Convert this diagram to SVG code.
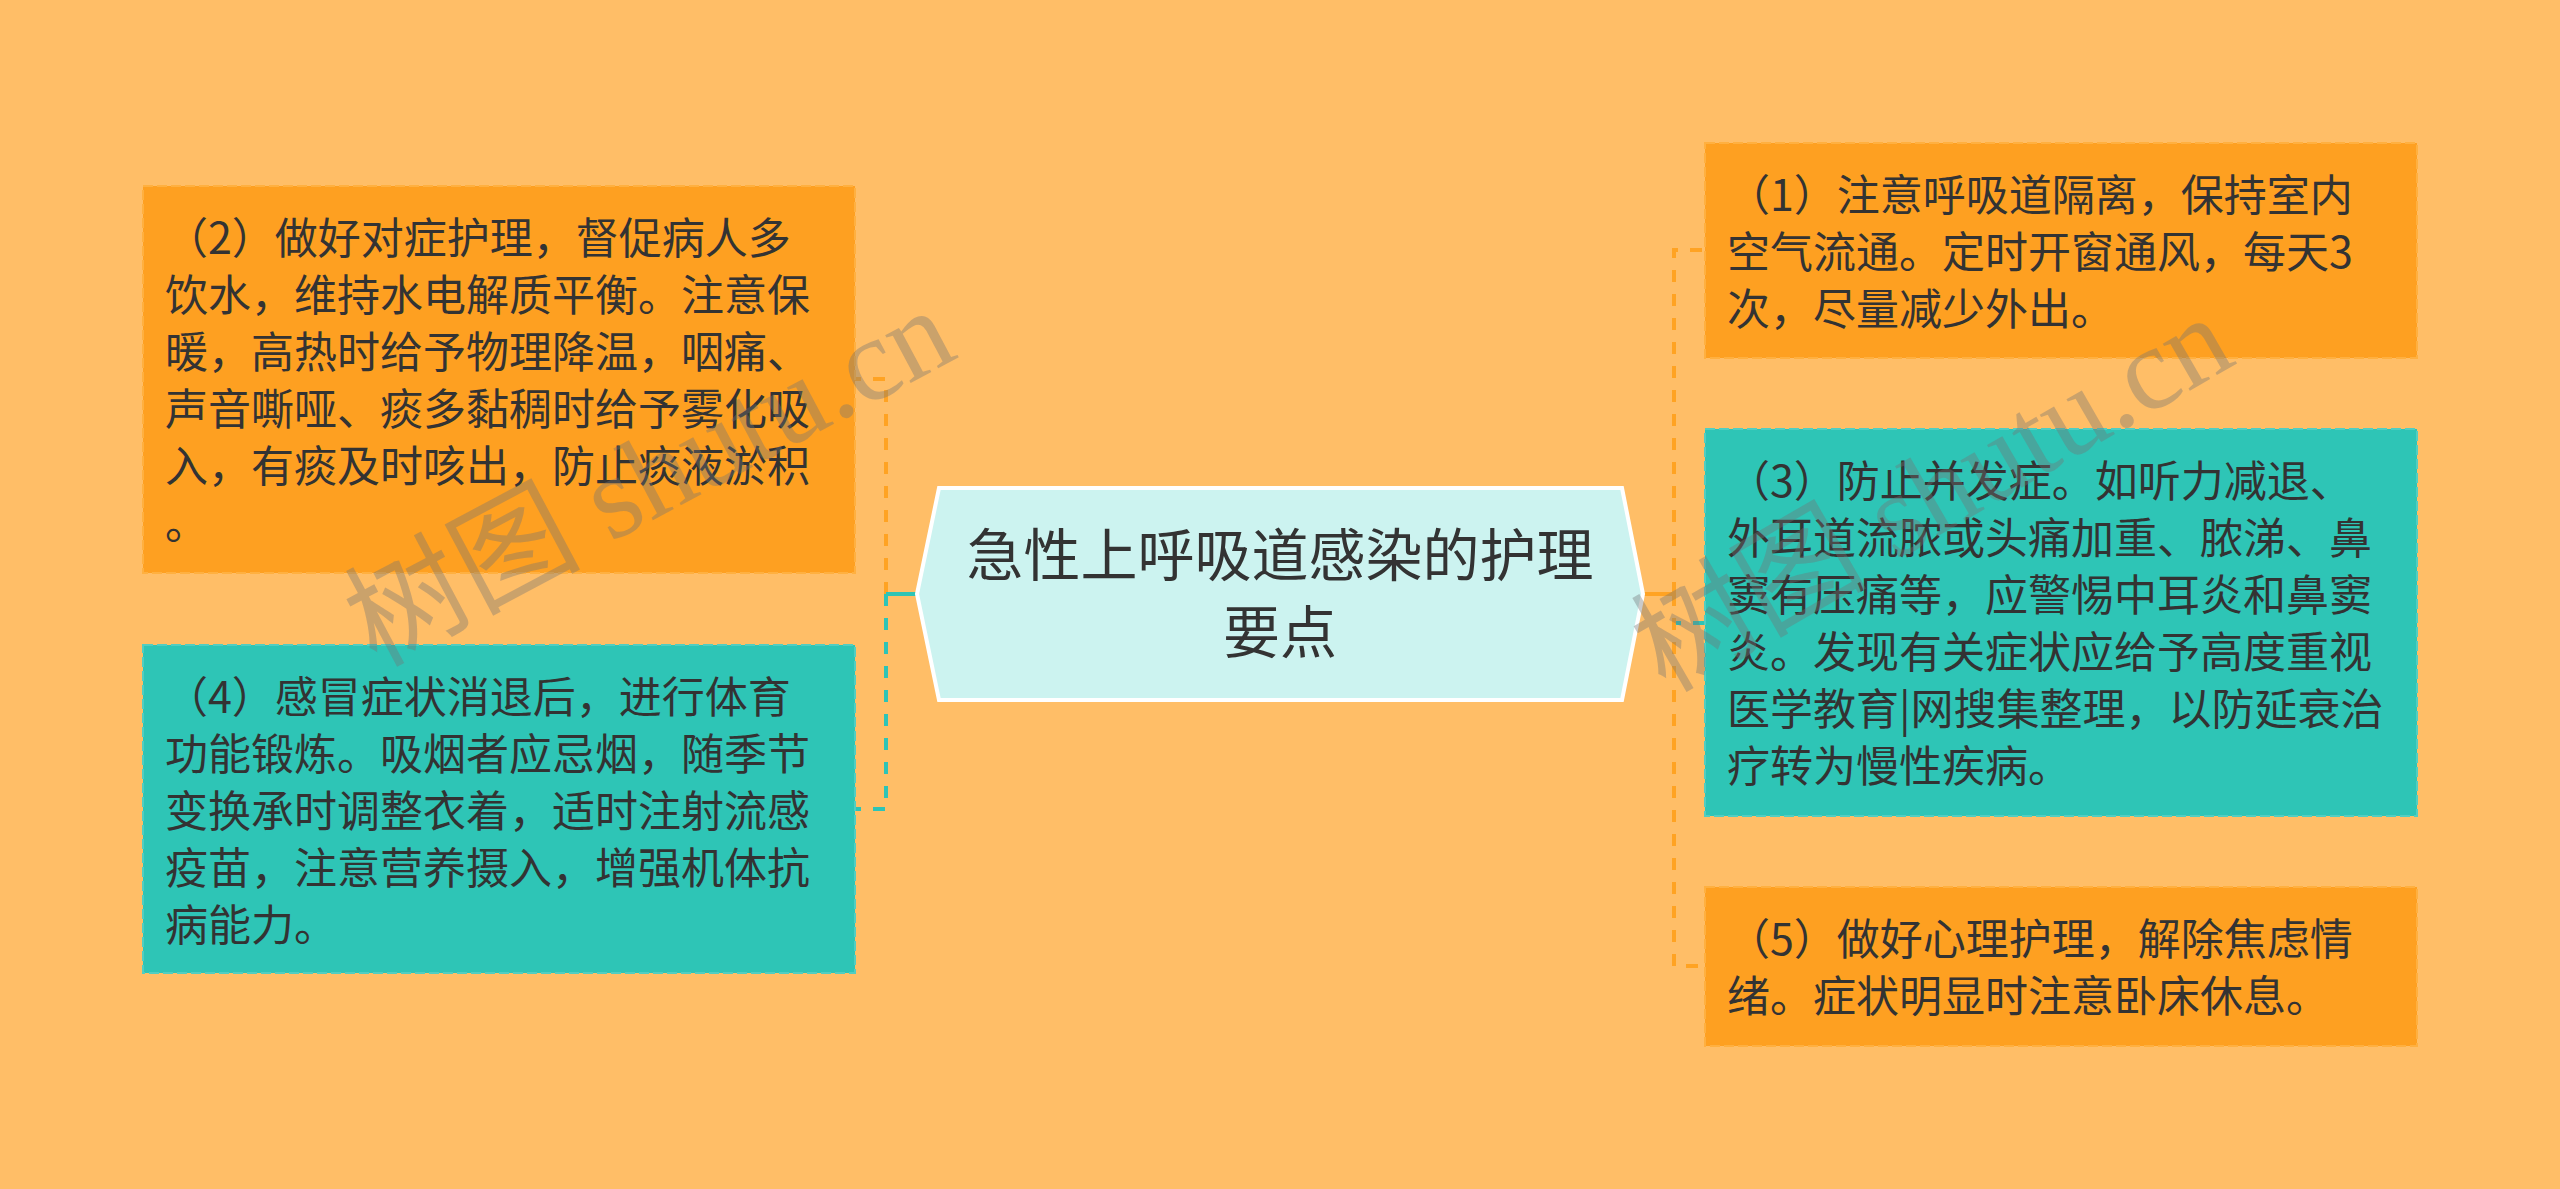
<svg xmlns="http://www.w3.org/2000/svg" width="2560" height="1189" viewBox="0 0 2560 1189">
<style>
.bg{fill:#FFBE67}
.box-o{fill:#FEA021;stroke:#FFB040;stroke-width:2;stroke-dasharray:10 4}
.box-t{fill:#2EC5B6;stroke:#52CEC1;stroke-width:2;stroke-dasharray:10 4}
.hex{fill:#CCF3F0;stroke:#FFFFFF;stroke-width:4}
.txt{font-family:"Noto Sans CJK SC","Noto Sans",sans-serif;font-size:43px;fill:#333333}
.title{font-family:"Noto Sans CJK SC","Noto Sans",sans-serif;font-size:57px;fill:#333333;text-anchor:middle}
.c-o{fill:none;stroke:#FFA323;stroke-width:4}
.c-t{fill:none;stroke:#2EC4B6;stroke-width:4}
.dash{stroke-dasharray:12 12}
.wm{font-family:"Liberation Serif","Noto Sans CJK SC",serif;font-size:118px;fill:#737373;fill-opacity:0.38;text-anchor:middle}
</style>
<rect class="bg" x="0" y="0" width="2560" height="1189"/>

<g id="connectors">
  <path class="c-o" d="M917,594 H886"/>
  <path class="c-o dash" d="M886,594 V379 H855"/>
  <path class="c-t" d="M917,594 H886"/>
  <path class="c-t dash" d="M886,594 V809 H855"/>
  <path class="c-t" d="M1643,594 H1674"/>
  <path class="c-t dash" d="M1674,594 V623 H1705"/>
  <path class="c-o" d="M1643,594 H1674"/>
  <path class="c-o dash" d="M1674,594 V250 H1705"/>
  <path class="c-o dash" d="M1674,594 V966 H1705"/>
</g>

<g id="center">
  <polygon class="hex" points="917,594 939,488 1622,488 1643,594 1622,700 939,700"/>
  <text class="title" x="1280" y="576">急性上呼吸道感染的护理</text>
  <text class="title" x="1280" y="653">要点</text>
</g>

<g id="node2">
  <rect class="box-o" x="143" y="186" width="712" height="387"/>
  <text class="txt" x="165" y="254">（2）做好对症护理，督促病人多</text>
  <text class="txt" x="165" y="311">饮水，维持水电解质平衡。注意保</text>
  <text class="txt" x="165" y="368">暖，高热时给予物理降温，咽痛、</text>
  <text class="txt" x="165" y="425">声音嘶哑、痰多黏稠时给予雾化吸</text>
  <text class="txt" x="165" y="482">入，有痰及时咳出，防止痰液淤积</text>
  <text class="txt" x="165" y="539">。</text>
</g>

<g id="node4">
  <rect class="box-t" x="143" y="645" width="712" height="328"/>
  <text class="txt" x="165" y="713">（4）感冒症状消退后，进行体育</text>
  <text class="txt" x="165" y="770">功能锻炼。吸烟者应忌烟，随季节</text>
  <text class="txt" x="165" y="827">变换承时调整衣着，适时注射流感</text>
  <text class="txt" x="165" y="884">疫苗，注意营养摄入，增强机体抗</text>
  <text class="txt" x="165" y="941">病能力。</text>
</g>

<g id="node1">
  <rect class="box-o" x="1705" y="143" width="712" height="215"/>
  <text class="txt" x="1727" y="211">（1）注意呼吸道隔离，保持室内</text>
  <text class="txt" x="1727" y="268">空气流通。定时开窗通风，每天3</text>
  <text class="txt" x="1727" y="325">次，尽量减少外出。</text>
</g>

<g id="node3">
  <rect class="box-t" x="1705" y="429" width="712" height="387"/>
  <text class="txt" x="1727" y="497">（3）防止并发症。如听力减退、</text>
  <text class="txt" x="1727" y="554">外耳道流脓或头痛加重、脓涕、鼻</text>
  <text class="txt" x="1727" y="611">窦有压痛等，应警惕中耳炎和鼻窦</text>
  <text class="txt" x="1727" y="668">炎。发现有关症状应给予高度重视</text>
  <text class="txt" x="1727" y="725">医学教育|网搜集整理，以防延衰治</text>
  <text class="txt" x="1727" y="782">疗转为慢性疾病。</text>
</g>

<g id="node5">
  <rect class="box-o" x="1705" y="887" width="712" height="159"/>
  <text class="txt" x="1727" y="955">（5）做好心理护理，解除焦虑情</text>
  <text class="txt" x="1727" y="1012">绪。症状明显时注意卧床休息。</text>
</g>

<g id="watermarks">
  <text class="wm" transform="translate(668,512) rotate(-28)">树图 shutu.cn</text>
  <text class="wm" transform="translate(1952,528) rotate(-30)">树图 shutu.cn</text>
</g>
</svg>
